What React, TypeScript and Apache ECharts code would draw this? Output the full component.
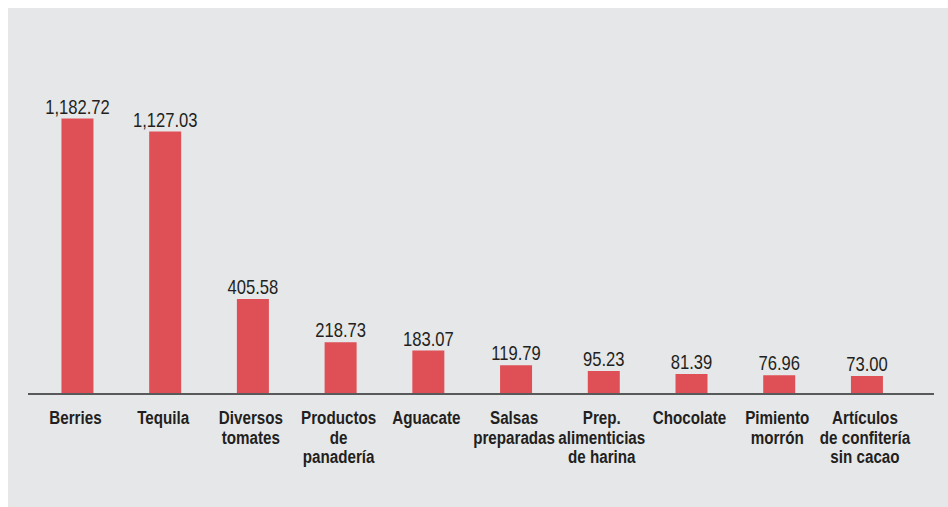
import React, { useEffect, useRef } from "react";
import * as echarts from "echarts";

const categories = [
  "Berries",
  "Tequila",
  "Diversos\ntomates",
  "Productos\nde\npanadería",
  "Aguacate",
  "Salsas\npreparadas",
  "Prep.\nalimenticias\nde harina",
  "Chocolate",
  "Pimiento\nmorrón",
  "Artículos\nde confitería\nsin cacao",
];
const values = [1182.72, 1127.03, 405.58, 218.73, 183.07, 119.79, 95.23, 81.39, 76.96, 73.0];

const FONT = "'Liberation Sans', Arial, sans-serif";
const fmt = (v: number) =>
  v.toLocaleString("en-US", { minimumFractionDigits: 2, maximumFractionDigits: 2 });

export default function App() {
  const ref = useRef<HTMLDivElement>(null);
  useEffect(() => {
    if (!ref.current) return;
    const chart = echarts.init(ref.current, null, { renderer: "svg" });
    chart.setOption({
      animation: false,
      backgroundColor: "#E6E7E9",
      grid: { left: 25.6, width: 877.2, top: 106.6, bottom: 114 },
      xAxis: {
        type: "category",
        data: categories,
        axisLine: { show: false },
        axisTick: { show: false },
        axisLabel: { show: false },
      },
      yAxis: { type: "value", min: 0, max: 1200, show: false, splitLine: { show: false } },
      series: [
        {
          type: "bar",
          data: values,
          barWidth: 32,
          itemStyle: { color: "#DE5055" },
        },
        {
          type: "custom",
          clip: false,
          silent: true,
          data: values.map((v, i) => [i, v]),
          encode: { x: 0, y: 1 },
          renderItem: (params: any, api: any) => {
            const i = api.value(0);
            const v = api.value(1);
            const top = api.coord([i, v]);
            const base = api.coord([i, 0]);
            return {
              type: "group",
              children: [
                {
                  type: "text",
                  x: top[0],
                  y: top[1] - 2,
                  scaleX: 0.83,
                  style: {
                    text: fmt(v),
                    fill: "#231f20",
                    fontFamily: FONT,
                    fontSize: 20,
                    align: "center",
                    verticalAlign: "bottom",
                  },
                },
                {
                  type: "text",
                  x: base[0] - 2,
                  y: base[1] + 15,
                  scaleX: 0.8,
                  style: {
                    text: categories[i],
                    fill: "#231f20",
                    fontFamily: FONT,
                    fontWeight: "bold",
                    fontSize: 19,
                    lineHeight: 19.5,
                    align: "center",
                    verticalAlign: "top",
                  },
                },
              ],
            };
          },
        },
      ],
      graphic: [
        {
          type: "line",
          shape: { x1: 20, y1: 386, x2: 926, y2: 386 },
          style: { stroke: "#58595B", lineWidth: 2 },
          z: 10,
        },
      ],
    });
    return () => chart.dispose();
  }, []);
  return (
    <div
      style={{
        position: "fixed",
        left: 8,
        top: 8,
        width: 940,
        height: 499,
        boxSizing: "border-box",
        borderLeft: "2px solid #D6D7D9",
        borderTop: "2px solid #D6D7D9",
        background: "#E6E7E9",
      }}
    >
      <div ref={ref} style={{ position: "absolute", left: -2, top: -2, width: 940, height: 499 }} />
    </div>
  );
}
